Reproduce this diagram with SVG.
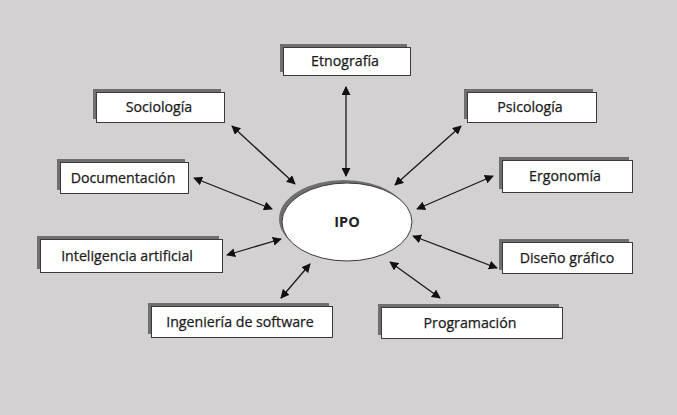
<svg xmlns="http://www.w3.org/2000/svg" width="677" height="415" viewBox="0 0 677 415">
<defs>
<style>
.sh{fill:#6f6f6f}
.bx{fill:#fff;stroke:#3a3a3a;stroke-width:1}
.t{font-family:"Open Sans","Liberation Sans",sans-serif;font-size:14.2px;fill:#1a1a1a;stroke:#1a1a1a;stroke-width:0.25;text-anchor:middle}
.c{stroke:#1a1a1a;stroke-width:1.3;fill:none;marker-start:url(#ah);marker-end:url(#ah)}
</style>
<marker id="ah" viewBox="0 0 10 10" refX="9" refY="5" markerWidth="9" markerHeight="9" markerUnits="userSpaceOnUse" orient="auto-start-reverse">
<path d="M0,0 L10,5 L0,10 z" fill="#111"/>
</marker>
</defs>
<rect width="677" height="415" fill="#d3d1d2"/>
<g id="connectors">
<line class="c" x1="346" y1="87" x2="346" y2="176"/>
<line class="c" x1="232" y1="126" x2="295" y2="184"/>
<line class="c" x1="461" y1="126" x2="395" y2="185"/>
<line class="c" x1="194" y1="178" x2="272" y2="209"/>
<line class="c" x1="493" y1="176" x2="417" y2="209"/>
<line class="c" x1="227" y1="255" x2="281" y2="239"/>
<line class="c" x1="497" y1="268" x2="413" y2="236"/>
<line class="c" x1="281" y1="298" x2="310" y2="264"/>
<line class="c" x1="440" y1="298" x2="390" y2="262"/>
</g>
<g id="ipo">
<ellipse cx="344" cy="219" rx="65" ry="39" fill="#6f6f6f"/>
<ellipse cx="347" cy="222" rx="65" ry="39" fill="#fff" stroke="#3a3a3a" stroke-width="1"/>
<text x="347" y="227" font-family="'Open Sans','Liberation Sans',sans-serif" font-size="14.5" font-weight="bold" fill="#222" text-anchor="middle">IPO</text>
</g>
<g id="etnografia">
<rect class="sh" x="280" y="44" width="127" height="28"/>
<rect class="bx" x="283.5" y="47.5" width="127" height="28"/>
<text class="t" x="345" y="66">Etnografía</text>
</g>
<g id="sociologia">
<rect class="sh" x="93" y="89" width="128" height="30"/>
<rect class="bx" x="96.5" y="92.5" width="128" height="30"/>
<text class="t" x="159" y="112">Sociología</text>
</g>
<g id="psicologia">
<rect class="sh" x="464" y="89" width="129" height="30"/>
<rect class="bx" x="467.5" y="92.5" width="129" height="30"/>
<text class="t" x="530" y="112">Psicología</text>
</g>
<g id="documentacion">
<rect class="sh" x="57" y="159" width="128" height="31"/>
<rect class="bx" x="60.5" y="162.5" width="128" height="31"/>
<text class="t" x="123" y="183">Documentación</text>
</g>
<g id="ergonomia">
<rect class="sh" x="499" y="157" width="130" height="32"/>
<rect class="bx" x="502.5" y="160.5" width="130" height="32"/>
<text class="t" x="565" y="181">Ergonomía</text>
</g>
<g id="inteligencia">
<rect class="sh" x="37" y="236" width="182" height="33"/>
<rect class="bx" x="40.5" y="239.5" width="182" height="33"/>
<text class="t" x="127" y="261">Inteligencia artificial</text>
</g>
<g id="diseno">
<rect class="sh" x="499" y="239" width="130" height="31"/>
<rect class="bx" x="502.5" y="242.5" width="130" height="31"/>
<text class="t" x="567" y="263">Diseño gráfico</text>
</g>
<g id="ingenieria">
<rect class="sh" x="148" y="303" width="181" height="31"/>
<rect class="bx" x="151.5" y="306.5" width="181" height="31"/>
<text class="t" x="240" y="327">Ingeniería de software</text>
</g>
<g id="programacion">
<rect class="sh" x="378" y="304" width="181" height="31"/>
<rect class="bx" x="381.5" y="307.5" width="181" height="31"/>
<text class="t" x="470" y="328">Programación</text>
</g>
</svg>
